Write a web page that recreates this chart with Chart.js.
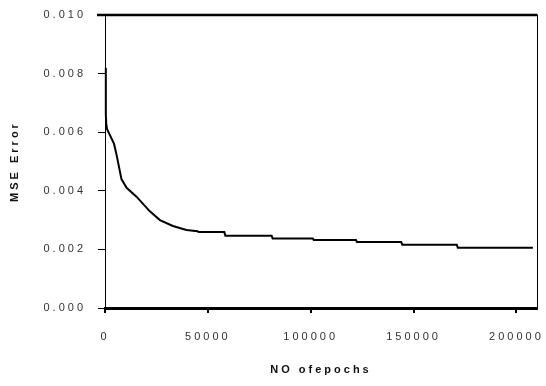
<!DOCTYPE html>
<html>
<head>
<meta charset="utf-8">
<script src="https://cdn.jsdelivr.net/npm/chart.js@4/dist/chart.umd.min.js"></script>
<style>
  html, body { margin: 0; padding: 0; background: #fff; }
  #wrap { width: 546px; height: 386px; }
</style>
</head>
<body>
<div id="wrap"><canvas id="mseChart" width="546" height="386"></canvas></div>
<script>
// values
const epochs = [400, 400, 600, 1000, 2400, 4400, 5700, 8000, 10500, 15300, 21800, 26700, 33000, 39600,
  45000, 45500, 58000, 58500, 81000, 81500, 101000, 101500, 122000, 122500, 144000, 144500,
  171000, 171500, 208000];
const mseError = [0.0082, 0.0066, 0.0063, 0.0061, 0.0059, 0.0056, 0.0052, 0.0044, 0.0041, 0.0038,
  0.0033, 0.0030, 0.0028, 0.00266, 0.00262, 0.00259, 0.00259, 0.00247, 0.00247, 0.00237,
  0.00237, 0.00232, 0.00232, 0.00225, 0.00225, 0.00216, 0.00216, 0.00206, 0.00206];
const xTicks = [0, 50000, 100000, 150000, 200000];
const yTicks = [0, 0.002, 0.004, 0.006, 0.008, 0.010];

const points = epochs.map((e, i) => ({ x: e, y: mseError[i] }));

const tickFont = { family: "Liberation Sans, Arial, sans-serif", size: 11 };
const titleFont = { family: "Liberation Sans, Arial, sans-serif", size: 11, weight: "bold" };

// spaced-out lettering like the original export
const spacing = {
  id: "spacing",
  beforeDraw(chart) { chart.ctx.letterSpacing = "3px"; }
};

// top and right edges of the plot box
const frame = {
  id: "frame",
  afterDraw(chart) {
    const { ctx, chartArea: a } = chart;
    ctx.save();
    ctx.strokeStyle = "#000";
    ctx.lineWidth = 2.5;
    ctx.beginPath();
    ctx.moveTo(a.left - 8, a.top);
    ctx.lineTo(a.right + 0.5, a.top);
    ctx.stroke();
    ctx.lineWidth = 1;
    ctx.beginPath();
    ctx.moveTo(a.right + 0.5, a.top);
    ctx.lineTo(a.right + 0.5, a.bottom);
    ctx.stroke();
    ctx.restore();
  }
};

// fixed axis boxes, no extra label padding around the plot
function fixBox(size) {
  return (s) => {
    if (s.isHorizontal()) s.height = size; else s.width = size;
    s.paddingLeft = s.paddingRight = s.paddingTop = s.paddingBottom = 0;
  };
}

new Chart(document.getElementById("mseChart").getContext("2d"), {
  type: "line",
  data: {
    datasets: [{
      data: points,
      borderColor: "#000",
      borderWidth: 2,
      pointRadius: 0,
      tension: 0,
      fill: false,
      clip: 4
    }]
  },
  options: {
    responsive: false,
    animation: false,
    layout: { padding: { top: 15, right: 9, left: 0, bottom: 0 } },
    plugins: { legend: { display: false }, tooltip: { enabled: false } },
    scales: {
      x: {
        type: "linear",
        min: 0,
        max: 210000,
        afterFit: fixBox(78),
        afterBuildTicks: (s) => { s.ticks = xTicks.map((v) => ({ value: v })); },
        ticks: { font: tickFont, color: "#333", padding: 17, maxRotation: 0, callback: (v) => String(v) },
        grid: { drawOnChartArea: false, drawTicks: true, tickLength: 5, color: "#000", lineWidth: 2 },
        border: { color: "#000", width: 3 },
        title: { display: true, text: "NO ofepochs", font: titleFont, color: "#111", padding: { top: 0, bottom: 9 } }
      },
      y: {
        min: 0,
        max: 0.01,
        afterFit: fixBox(105),
        afterBuildTicks: (s) => { s.ticks = yTicks.map((v) => ({ value: v })); },
        ticks: { font: tickFont, color: "#333", padding: 12, callback: (v) => v.toFixed(3) },
        grid: { drawOnChartArea: false, drawTicks: true, tickLength: 7, color: "#000", lineWidth: 1 },
        border: { color: "#000", width: 1 },
        title: { display: true, text: "MSE Error", font: titleFont, color: "#111", padding: { top: 8, bottom: 0 } }
      }
    }
  },
  plugins: [spacing, frame]
});
</script>
</body>
</html>
